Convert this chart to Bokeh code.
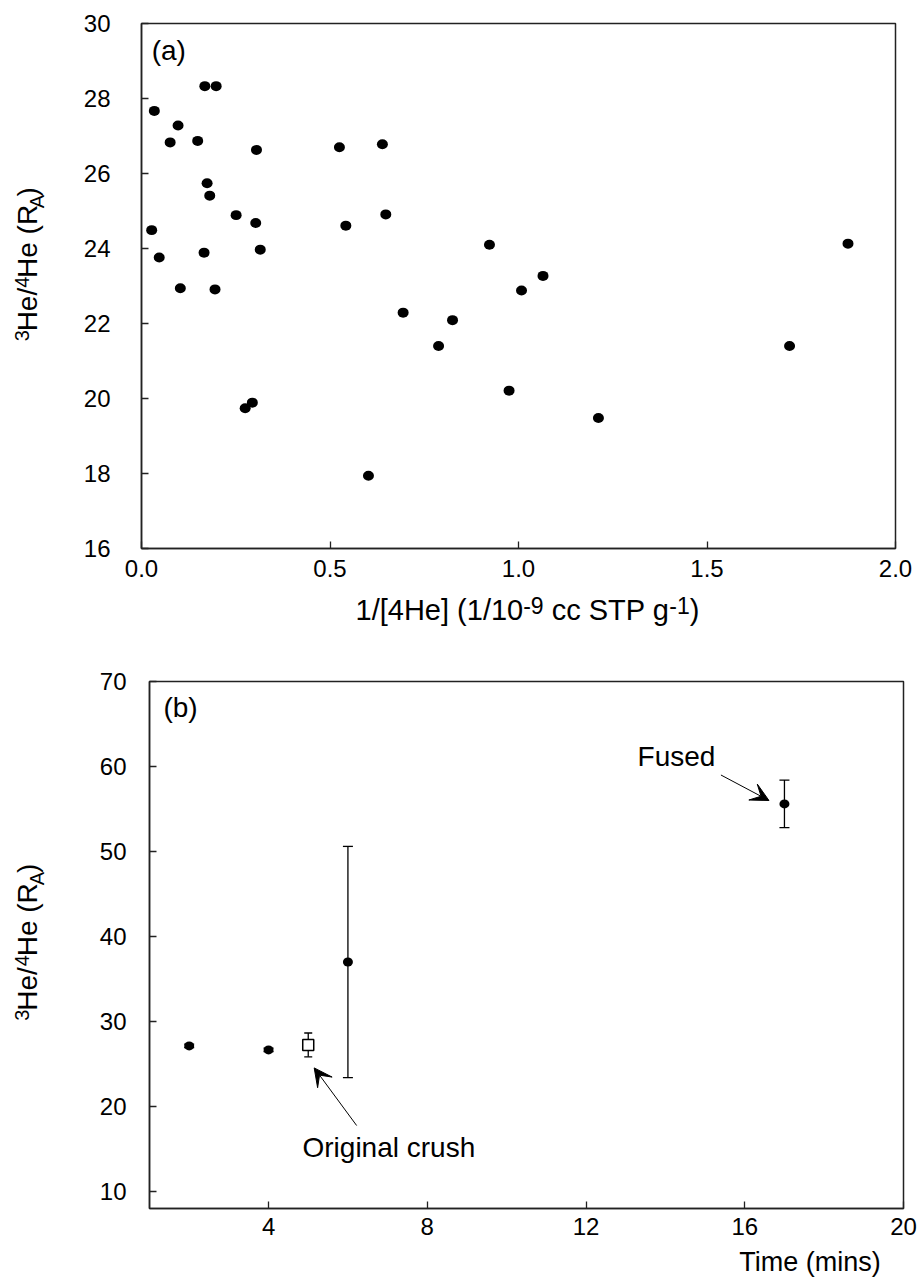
import math
import numpy as np
from bokeh.plotting import figure
from bokeh.layouts import column, row
from bokeh.models import (Range1d, FixedTicker, NumeralTickFormatter, Label, Arrow, VeeHead,
                          Whisker, TeeHead, ColumnDataSource)
from bokeh.embed import file_html
from bokeh.resources import INLINE

# ---------------- data ----------------
# Panel (a): 1/[4He] vs 3He/4He
inv_he4 = [0.034, 0.168, 0.198, 0.097, 0.076, 0.149, 0.305, 0.525, 0.639, 0.174,
           0.181, 0.251, 0.303, 0.542, 0.648, 0.027, 0.047, 0.166, 0.315, 0.923,
           0.103, 0.195, 1.874, 1.065, 1.008, 0.694, 0.825, 0.788, 0.275, 0.294,
           0.602, 0.975, 1.719, 1.212]
ratio_a = [27.67, 28.33, 28.33, 27.28, 26.83, 26.87, 26.63, 26.70, 26.78, 25.74,
           25.41, 24.89, 24.68, 24.61, 24.91, 24.49, 23.76, 23.89, 23.97, 24.10,
           22.94, 22.91, 24.13, 23.27, 22.88, 22.29, 22.09, 21.40, 19.74, 19.89,
           17.94, 20.21, 21.40, 19.48]

# Panel (b): step heating / crushing
time_step = [2, 4, 6, 17]
ratio_step = [27.13, 26.66, 37.0, 55.6]
err_step = [0.2, 0.2, 13.6, 2.8]
time_crush = [5]
ratio_crush = [27.25]
err_crush = [1.4]

xa_ticks = [0.0, 0.5, 1.0, 1.5, 2.0]
ya_ticks = [16, 18, 20, 22, 24, 26, 28, 30]
xb_ticks = [4, 8, 12, 16, 20]
yb_ticks = [10, 20, 30, 40, 50, 60, 70]

FONT = "Liberation Sans"
AXC = "#222222"

# Arial / Liberation Sans advance widths (per 1000 em)
W = {' ': 278, '(': 333, ')': 333, '/': 278, '[': 278, ']': 278, '-': 333, '.': 278,
     'A': 667, 'C': 722, 'H': 722, 'P': 667, 'R': 722, 'S': 667, 'T': 611,
     'a': 556, 'c': 500, 'e': 556, 'g': 556, 'i': 222, 'm': 833, 'n': 556, 's': 500}


def tw(s, size):
    return sum(W.get(c, 556) for c in s) * size / 1000.0


def label_fig(w, h):
    f = figure(width=w, height=h, x_range=Range1d(0, w), y_range=Range1d(h, 0),
               x_axis_type=None, y_axis_type=None, min_border=0, title=None,
               output_backend="svg", toolbar_location=None)
    f.outline_line_color = None
    f.background_fill_color = "white"
    f.border_fill_color = "white"
    return f


def rich(p, pieces, cx, cy, vertical=False):
    """pieces: (text, font px, shift up). Coordinates are pixels, y downwards."""
    total = sum(tw(t, s) for t, s, _ in pieces)
    pos = -total / 2.0
    for t, s, shift in pieces:
        core = t.strip()
        lead = tw(t[:len(t) - len(t.lstrip())], s)
        start = pos + lead
        if vertical:
            x, y, ang = cx - shift, cy - start, math.pi / 2
        else:
            x, y, ang = cx + start, cy - shift, 0
        p.add_layout(Label(x=x, y=y, text=core, angle=ang, text_font=FONT,
                           text_font_size=f"{s}px", text_color="black",
                           text_align="left", text_baseline="bottom"))
        pos += tw(t, s)


def style(p, xstand, ystand):
    for ax in (p.xaxis[0], p.yaxis[0]):
        ax.axis_line_color = AXC
        ax.axis_line_width = 1.5
        ax.major_tick_line_color = AXC
        ax.major_tick_line_width = 1.3
        ax.major_tick_in = 7
        ax.major_tick_out = 0
        ax.minor_tick_line_color = None
        ax.major_label_text_font = FONT
        ax.major_label_text_font_size = "24px"
        ax.major_label_text_color = "black"
    p.xaxis[0].major_label_standoff = xstand
    p.yaxis[0].major_label_standoff = ystand
    p.xgrid.visible = False
    p.ygrid.visible = False
    p.outline_line_color = AXC
    p.outline_line_width = 1.5
    p.background_fill_color = "white"
    p.border_fill_color = "white"


def text_label(p, x, y, t, size=28):
    p.add_layout(Label(x=x, y=y, text=t, text_font=FONT, text_font_size=f"{size}px",
                       text_color="black", text_align="left", text_baseline="bottom"))


Y_LABEL = [("3", 20, 14), ("He/", 28, 0), (" 4", 20, 14), ("He (R", 28, 0),
           (" A", 20, -5), (")", 28, 0)]

# ---------------- panel (a) ----------------
pa = figure(frame_width=754, frame_height=525, min_border_left=81, min_border_right=26,
            min_border_top=23, min_border_bottom=45, title=None,
            x_range=Range1d(0, 2), y_range=Range1d(16, 30),
            output_backend="svg", toolbar_location=None)
style(pa, 11, 31)
pa.xaxis[0].ticker = FixedTicker(ticks=xa_ticks)
pa.xaxis[0].formatter = NumeralTickFormatter(format="0.0")
pa.yaxis[0].ticker = FixedTicker(ticks=ya_ticks)

pa.ellipse(x=inv_he4, y=ratio_a, width=11, height=10, width_units="screen",
           height_units="screen", fill_color="black", line_color=None)
text_label(pa, 0.027, 28.86, "(a)")

ya_lab = label_fig(60, 593)
rich(ya_lab, Y_LABEL, 42, 272.5, vertical=True)

xa_lab = label_fig(921, 68)
rich(xa_lab, [("1/[4He] (1/10", 29, 0), ("-9", 23, 12), (" cc STP g", 29, 0),
              ("-1", 23, 12), (")", 29, 0)], 527, 32)

# ---------------- panel (b) ----------------
pb = figure(frame_width=754, frame_height=527, min_border_left=89, min_border_right=18,
            min_border_top=20, min_border_bottom=36, title=None,
            x_range=Range1d(1, 20), y_range=Range1d(8, 70),
            output_backend="svg", toolbar_location=None)
style(pb, 9, 23)
pb.xaxis[0].ticker = FixedTicker(ticks=xb_ticks)
pb.yaxis[0].ticker = FixedTicker(ticks=yb_ticks)

rs = np.array(ratio_step)
es = np.array(err_step)
src_step = ColumnDataSource(dict(x=time_step, y=ratio_step, upper=rs + es, lower=rs - es))
rc = np.array(ratio_crush)
ec = np.array(err_crush)
src_crush = ColumnDataSource(dict(x=time_crush, y=ratio_crush, upper=rc + ec, lower=rc - ec))

pb.add_layout(Whisker(source=src_step, base="x", upper="upper", lower="lower",
                      dimension="height", line_color="black", line_width=1.3,
                      upper_head=TeeHead(size=10, line_color="black", line_width=1.3),
                      lower_head=TeeHead(size=10, line_color="black", line_width=1.3)))
pb.add_layout(Whisker(source=src_crush, base="x", upper="upper", lower="lower",
                      dimension="height", line_color="black", line_width=1.3,
                      upper_head=TeeHead(size=8, line_color="black", line_width=1.3),
                      lower_head=TeeHead(size=8, line_color="black", line_width=1.3)))
pb.ellipse(x="x", y="y", source=src_step, width=10, height=9, width_units="screen",
           height_units="screen", fill_color="black", line_color=None, level="overlay")
pb.scatter(x="x", y="y", source=src_crush, marker="square", size=11,
           fill_color="white", line_color="black", line_width=1.5, level="overlay")

text_label(pb, 1.35, 65.1, "(b)")
text_label(pb, 13.3, 59.4, "Fused")
text_label(pb, 4.855, 13.3, "Original crush")
pb.add_layout(Arrow(x_start=15.4, y_start=59.0, x_end=16.61, y_end=56.0, line_width=1,
                    line_color="black",
                    end=VeeHead(size=18, fill_color="black", line_color="black")))
pb.add_layout(Arrow(x_start=6.22, y_start=17.76, x_end=5.15, y_end=24.54, line_width=1,
                    line_color="black",
                    end=VeeHead(size=18, fill_color="black", line_color="black")))

yb_lab = label_fig(60, 583)
rich(yb_lab, Y_LABEL, 42, 289, vertical=True)

tb_lab = label_fig(921, 40)
rich(tb_lab, [("Time (mins)", 27, 0)], 810, 32)

layout = column(row(ya_lab, pa), xa_lab, row(yb_lab, pb), tb_lab)
open("out.html", "w").write(file_html(layout, INLINE))
